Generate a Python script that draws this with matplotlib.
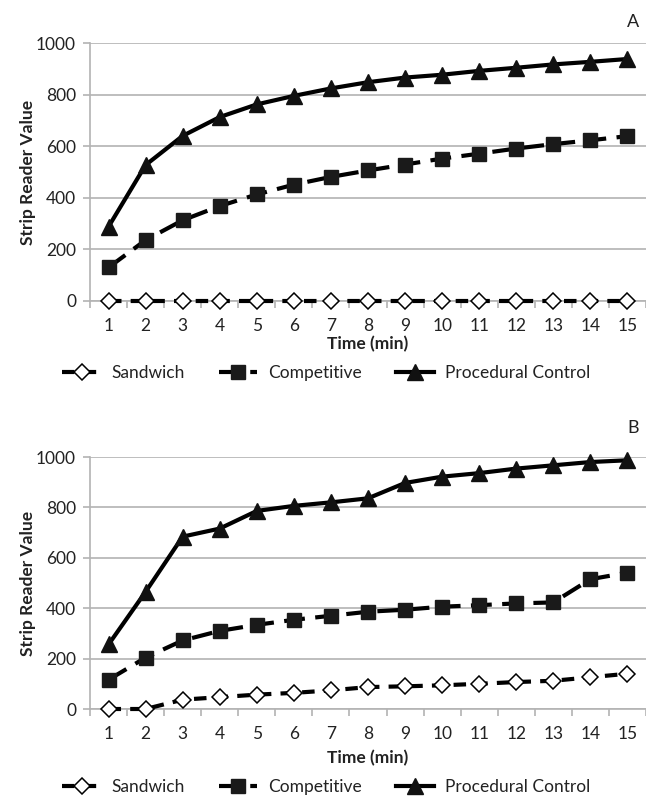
import matplotlib
matplotlib.use("Agg")
import matplotlib.pyplot as plt
from matplotlib.ticker import MultipleLocator, FixedLocator

plt.rcParams['font.family'] = ['Lato', 'DejaVu Sans']

time_min = list(range(1, 16))
xtick_labels = [str(t) for t in time_min]

# Panel A
sandwich_a = [0] * 15
competitive_a = [130, 236, 313, 368, 413, 451, 481, 506, 529, 552, 571, 591, 608, 623, 639]
procedural_a = [288, 527, 640, 713, 762, 795, 824, 848, 866, 877, 892, 904, 917, 927, 938]

# Panel B
sandwich_b = [0, 0, 37, 47, 57, 64, 74, 87, 90, 94, 100, 107, 112, 126, 140]
competitive_b = [116, 204, 272, 310, 334, 354, 370, 386, 394, 406, 412, 419, 423, 515, 541]
procedural_b = [256, 465, 684, 716, 786, 806, 820, 836, 897, 922, 936, 954, 967, 980, 987]

panels = [
    ("A", sandwich_a, competitive_a, procedural_a),
    ("B", sandwich_b, competitive_b, procedural_b),
]

W, H = 646, 796
fig = plt.figure(figsize=(W / 100, H / 100), dpi=100)

geo = [(43, 301, 22, 344, 373), (457, 709, 428, 758, 787)]
grid_c = '#b3b3b3'
txt_c = '#222222'

for (label, s, c, p), (ytop, ybot, lab_y, xl_y, leg_y) in zip(panels, geo):
    ax = fig.add_axes([90 / W, 1 - ybot / H, 556 / W, (ybot - ytop) / H])
    ax.set_xlim(0.5, 15.5)
    ax.set_ylim(0, 1000)
    ax.yaxis.set_major_locator(MultipleLocator(200))
    ax.grid(axis='y', color=grid_c, linewidth=1.2)
    ax.set_axisbelow(True)
    for sp in ['top', 'right']:
        ax.spines[sp].set_visible(False)
    for sp in ['left', 'bottom']:
        ax.spines[sp].set_color(grid_c)
        ax.spines[sp].set_linewidth(1.2)
    ax.set_xticks(time_min)
    ax.set_xticklabels(xtick_labels)
    ax.xaxis.set_minor_locator(FixedLocator([i + 0.5 for i in range(0, 16)]))
    ax.tick_params(axis='x', which='major', length=0, labelsize=12.5, pad=12, colors=txt_c)
    ax.tick_params(axis='x', which='minor', length=5, color=grid_c, width=1.2)
    ax.tick_params(axis='y', which='major', length=5, color=grid_c, width=1.2,
                   labelsize=12.5, pad=5, labelcolor=txt_c)

    l1, = ax.plot(time_min, s, color='black', lw=3, dashes=(3.0, 2.2),
                  marker='D', markersize=8, markerfacecolor='white',
                  markeredgecolor='black', markeredgewidth=1.1, clip_on=False,
                  label='Sandwich', zorder=3)
    l2, = ax.plot(time_min, c, color='black', lw=3, dashes=(5.0, 2.5),
                  marker='s', markersize=10, markerfacecolor='#1a1a1a',
                  markeredgecolor='#1a1a1a', clip_on=False,
                  label='Competitive', zorder=4)
    l3, = ax.plot(time_min, p, color='black', lw=3,
                  marker='^', markersize=11, markerfacecolor='#111111',
                  markeredgecolor='#111111', clip_on=False,
                  label='Procedural Control', zorder=5)

    fig.text(633 / W, 1 - lab_y / H, label, ha='center', va='center',
             fontsize=13, color=txt_c)
    fig.text(28 / W, 1 - (ytop + ybot) / 2 / H, 'Strip Reader Value', rotation=90,
             ha='center', va='center', fontsize=12.5, fontweight='bold',
             color=txt_c)
    fig.text(368 / W, 1 - xl_y / H, 'Time (min)', ha='center', va='center',
             fontsize=12.5, fontweight='bold', color=txt_c)
    fig.legend(handles=[l1, l2, l3], loc='center',
               bbox_to_anchor=(0.505, 1 - leg_y / H), ncol=3, frameon=False,
               fontsize=12.5, handlelength=2.2, columnspacing=2.0,
               handletextpad=0.6, labelcolor=txt_c)

fig.savefig('out.png', dpi=100)
